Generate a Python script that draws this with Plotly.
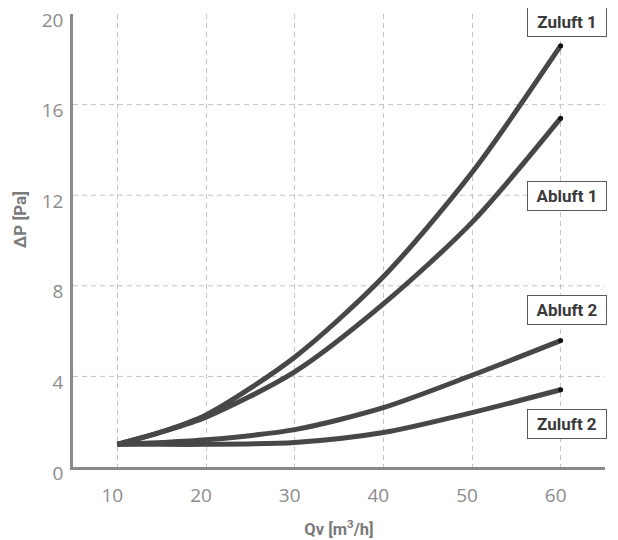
import plotly.graph_objects as go

qv = [10, 15, 20, 30, 40, 50, 60]
zuluft1 = [1.0, 1.55, 2.3, 4.85, 8.4, 13.0, 18.6]
abluft1 = [1.0, 1.55, 2.2, 4.2, 7.2, 10.8, 15.4]
abluft2 = [1.0, 1.08, 1.2, 1.65, 2.62, 4.05, 5.58]
zuluft2 = [1.0, 1.0, 1.0, 1.08, 1.52, 2.4, 3.41]

series = {"Zuluft 1": zuluft1, "Abluft 1": abluft1, "Abluft 2": abluft2, "Zuluft 2": zuluft2}
# label y-positions (data units) for boxed labels at the right
label_y = {"Zuluft 1": 19.65, "Abluft 1": 11.95, "Abluft 2": 6.95, "Zuluft 2": 1.9}

x_ticks = [10, 20, 30, 40, 50, 60]
y_ticks = [0, 4, 8, 12, 16, 20]

LINE = "#474747"
TICK = "#8c8c8c"
TITLE = "#7a7a7a"
COND = "Roboto, sans-serif"

fig = go.Figure()
for name, ys in series.items():
    fig.add_trace(go.Scatter(
        x=qv, y=ys, mode="lines", name=name,
        line=dict(color=LINE, width=5, shape="spline", smoothing=0.8),
        hoverinfo="skip"))
    fig.add_trace(go.Scatter(
        x=[qv[-1]], y=[ys[-1]], mode="markers",
        marker=dict(color="#111", size=5), hoverinfo="skip", showlegend=False))

# horizontal dashed gridlines (inner ticks only)
for yv in y_ticks[1:-1]:
    fig.add_shape(type="line", xref="paper", yref="y", x0=0, x1=1, y0=yv, y1=yv,
                  line=dict(color="#c4c4c4", width=1, dash="5px,4px"), layer="below")

for name, yl in label_y.items():
    fig.add_annotation(x=60, y=yl, xref="x", yref="y", text="<b>%s</b>" % name,
                       showarrow=False, xshift=6,
                       font=dict(family=COND, size=17, color="#3a3a3a"),
                       bgcolor="white", bordercolor="#5a5a5a", borderwidth=1,
                       borderpad=4, width=70, height=20)

# y-axis title (placed slightly above centre, as in the reference)
fig.add_annotation(x=-0.0996, y=0.545, xref="paper", yref="paper",
                   text="<b>ΔP [Pa]</b>", textangle=-90, showarrow=False,
                   xanchor="center", yanchor="middle",
                   font=dict(family=COND, size=17, color=TITLE))

# page body has an 8px default margin; the figure is sized to compensate
fig.update_layout(
    width=610, height=532,
    margin=dict(l=65, r=13, t=6, b=73),
    paper_bgcolor="white", plot_bgcolor="white",
    showlegend=False,
    xaxis=dict(range=[5, 65], tickvals=x_ticks, ticktext=[str(v) for v in x_ticks],
               showgrid=True, gridcolor="#c4c4c4", griddash="5px,4px", gridwidth=1,
               showline=True, linecolor="#8a8a8a", linewidth=2.5, zeroline=False,
               automargin=False, ticklabeloverflow="allow",
               ticks="", tickfont=dict(family="Open Sans", size=19, color=TICK),
               ticklabelstandoff=9, ticklabelshift=-5,
               title=dict(text="<b>Qv [m<sup>3</sup>/h]</b>", standoff=17,
                          font=dict(family=COND, size=16.5, color=TITLE))),
    yaxis=dict(range=[0, 20], tickvals=y_ticks, ticktext=[str(v) for v in y_ticks],
               showgrid=False, showline=True, linecolor="#8a8a8a", linewidth=2.5,
               zeroline=False, ticks="", automargin=False, ticklabeloverflow="allow",
               tickfont=dict(family="Open Sans", size=19, color=TICK),
               ticklabelstandoff=3, ticklabelshift=6),
)

fig.write_html("out.html")
